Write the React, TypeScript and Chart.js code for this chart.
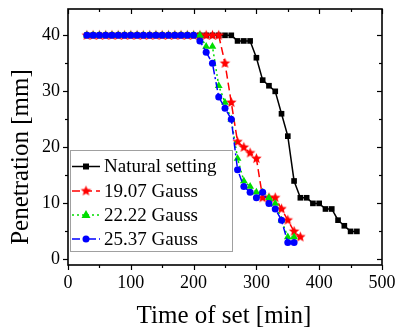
import React, { useEffect, useRef } from 'react';
import { Chart, registerables } from 'chart.js';

Chart.register(...registerables);

// ---------- data ----------
const naturalTime = [30, 40, 50, 60, 70, 80, 90, 100, 110, 120, 130, 140, 150, 160, 170, 180, 190, 200, 210, 220, 230, 240, 250, 260, 270, 280, 290, 300, 310, 320, 330, 340, 350, 360, 370, 380, 390, 400, 410, 420, 430, 440, 450, 460];
const naturalPen = [40, 40, 40, 40, 40, 40, 40, 40, 40, 40, 40, 40, 40, 40, 40, 40, 40, 40, 40, 40, 40, 40, 40, 40, 39, 39, 39, 36, 32, 31, 30, 26, 22, 14, 11, 11, 10, 10, 9, 9, 7, 6, 5, 5];

const g1907Time = [30, 40, 50, 60, 70, 80, 90, 100, 110, 120, 130, 140, 150, 160, 170, 180, 190, 200, 210, 220, 230, 240, 250, 260, 270, 280, 290, 300, 310, 320, 330, 340, 350, 360, 370];
const g1907Pen = [40, 40, 40, 40, 40, 40, 40, 40, 40, 40, 40, 40, 40, 40, 40, 40, 40, 40, 40, 40, 40, 40, 35, 28, 21, 20, 19, 18, 11, 11, 11, 9, 7, 5, 4];

const g2222Time = [30, 40, 50, 60, 70, 80, 90, 100, 110, 120, 130, 140, 150, 160, 170, 180, 190, 200, 210, 220, 230, 240, 250, 260, 270, 280, 290, 300, 310, 320, 330, 340, 350, 360];
const g2222Pen = [40, 40, 40, 40, 40, 40, 40, 40, 40, 40, 40, 40, 40, 40, 40, 40, 40, 40, 40, 38, 38, 31, 28, 25, 18, 14, 13, 12, 12, 11, 10, 7, 4, 4];

const g2537Time = [30, 40, 50, 60, 70, 80, 90, 100, 110, 120, 130, 140, 150, 160, 170, 180, 190, 200, 210, 220, 230, 240, 250, 260, 270, 280, 290, 300, 310, 320, 330, 340, 350, 360];
const g2537Pen = [40, 40, 40, 40, 40, 40, 40, 40, 40, 40, 40, 40, 40, 40, 40, 40, 40, 40, 39, 37, 35, 29, 27, 25, 16, 13, 12, 11, 12, 10, 9, 7, 3, 3];

const seriesLabels = ['Natural setting', '19.07 Gauss', '22.22 Gauss', '25.37 Gauss'];

const xMajorTicks = [0, 100, 200, 300, 400, 500];
const xMinorTicks = [50, 150, 250, 350, 450];
const yMajorTicks = [0, 10, 20, 30, 40];
const yMinorTicks = [5, 15, 25, 35];

const xTitle = 'Time of set [min]';
const yTitle = 'Penetration [mm]';

// ---------- styling ----------
const SERIF = "'Liberation Serif', 'DejaVu Serif', serif";
const COLORS = ['#000000', '#ff0000', '#00dd00', '#0000ff'];
const DASHES: number[][] = [[], [8, 4], [2, 3], [8, 3, 2, 3]];

function makeStar(r: number, color: string): HTMLCanvasElement {
  const s = Math.ceil(r * 2 + 2);
  const c = document.createElement('canvas');
  c.width = s;
  c.height = s;
  const ctx = c.getContext('2d')!;
  ctx.fillStyle = color;
  ctx.beginPath();
  for (let i = 0; i < 10; i++) {
    const ang = -Math.PI / 2 + (i * Math.PI) / 5;
    const rr = i % 2 === 0 ? r : r * 0.45;
    const x = s / 2 + rr * Math.cos(ang);
    const y = s / 2 + rr * Math.sin(ang);
    if (i === 0) ctx.moveTo(x, y);
    else ctx.lineTo(x, y);
  }
  ctx.closePath();
  ctx.fill();
  return c;
}

function drawMarker(ctx: CanvasRenderingContext2D, idx: number, x: number, y: number, star: HTMLCanvasElement) {
  ctx.save();
  ctx.setLineDash([]);
  ctx.fillStyle = COLORS[idx];
  ctx.beginPath();
  if (idx === 0) {
    ctx.rect(x - 3, y - 3, 6, 6);
    ctx.fill();
  } else if (idx === 1) {
    ctx.drawImage(star, x - star.width / 2, y - star.height / 2);
  } else if (idx === 2) {
    const r = 5;
    ctx.moveTo(x, y - r);
    ctx.lineTo(x + r * 0.9, y + r * 0.6);
    ctx.lineTo(x - r * 0.9, y + r * 0.6);
    ctx.closePath();
    ctx.fill();
  } else {
    ctx.arc(x, y, 3.5, 0, Math.PI * 2);
    ctx.fill();
  }
  ctx.restore();
}

export default function App() {
  const ref = useRef<HTMLCanvasElement | null>(null);

  useEffect(() => {
    if (!ref.current) return;
    const star = makeStar(5.5, COLORS[1]);

    const toPts = (xs: number[], ys: number[]) => xs.map((x, i) => ({ x, y: ys[i] }));

    const framePlugin = {
      id: 'frameAndText',
      afterDraw(chart: any) {
        const { ctx, chartArea: a, scales } = chart;
        const xs = scales.x;
        const ys = scales.y;
        ctx.save();
        ctx.strokeStyle = '#000';
        ctx.lineWidth = 1.6;
        ctx.setLineDash([]);
        ctx.strokeRect(a.left, a.top, a.right - a.left, a.bottom - a.top);
        ctx.lineWidth = 1.2;
        const seg = (x1: number, y1: number, x2: number, y2: number) => {
          ctx.beginPath();
          ctx.moveTo(x1, y1);
          ctx.lineTo(x2, y2);
          ctx.stroke();
        };
        const doX = (vals: number[], L: number) => {
          for (const v of vals) {
            const px = Math.round(xs.getPixelForValue(v)) + 0.5;
            seg(px, a.bottom, px, a.bottom + L);
            seg(px, a.top, px, a.top + L);
          }
        };
        const doY = (vals: number[], L: number) => {
          for (const v of vals) {
            const py = Math.round(ys.getPixelForValue(v)) + 0.5;
            seg(a.left - L, py, a.left, py);
            seg(a.right - L, py, a.right, py);
          }
        };
        doX(xMajorTicks, 5);
        doX(xMinorTicks, 3);
        doY(yMajorTicks, 5);
        doY(yMinorTicks, 3);

        // axis titles
        ctx.fillStyle = '#000';
        ctx.textAlign = 'center';
        ctx.textBaseline = 'middle';
        ctx.font = `25px ${SERIF}`;
        ctx.fillText(xTitle, 224, 316);
        ctx.save();
        ctx.translate(21, 157);
        ctx.rotate(-Math.PI / 2);
        ctx.font = `25px ${SERIF}`;
        ctx.fillText(yTitle, 0, 0);
        ctx.restore();

        // legend
        const bx = 70, by = 150, bw = 162, bh = 101;
        ctx.fillStyle = '#ffffff';
        ctx.fillRect(bx, by, bw, bh);
        ctx.strokeStyle = '#a0a0a0';
        ctx.lineWidth = 1;
        ctx.strokeRect(bx + 0.5, by + 0.5, bw, bh);
        const rows = [166.5, 191, 215, 239];
        ctx.font = `19px ${SERIF}`;
        ctx.textAlign = 'left';
        ctx.textBaseline = 'middle';
        seriesLabels.forEach((lab, i) => {
          const y = rows[i];
          ctx.strokeStyle = COLORS[i];
          ctx.lineWidth = 1.5;
          ctx.setLineDash(DASHES[i]);
          seg(72, y, 100, y);
          ctx.setLineDash([]);
          drawMarker(ctx, i, 86, y, star);
          ctx.fillStyle = '#000';
          ctx.fillText(lab, 104, y + 1);
        });
        ctx.restore();
      },
    };

    const chart = new Chart(ref.current, {
      type: 'line',
      data: {
        datasets: [
          {
            label: seriesLabels[0],
            data: toPts(naturalTime, naturalPen),
            borderColor: COLORS[0],
            backgroundColor: COLORS[0],
            borderWidth: 1.5,
            pointStyle: 'rect',
            pointRadius: 4,
            pointBorderWidth: 0,
            order: 4,
          },
          {
            label: seriesLabels[1],
            data: toPts(g1907Time, g1907Pen),
            borderColor: COLORS[1],
            backgroundColor: COLORS[1],
            borderWidth: 1.5,
            borderDash: DASHES[1],
            pointStyle: star as any,
            pointRadius: 5,
            order: 3,
          },
          {
            label: seriesLabels[2],
            data: toPts(g2222Time, g2222Pen),
            borderColor: COLORS[2],
            backgroundColor: COLORS[2],
            borderWidth: 1.5,
            borderDash: DASHES[2],
            pointStyle: 'triangle',
            pointRadius: 4.5,
            pointBorderWidth: 0,
            order: 2,
          },
          {
            label: seriesLabels[3],
            data: toPts(g2537Time, g2537Pen),
            borderColor: COLORS[3],
            backgroundColor: COLORS[3],
            borderWidth: 1.5,
            borderDash: DASHES[3],
            pointStyle: 'circle',
            pointRadius: 3.5,
            pointBorderWidth: 0,
            order: 1,
          },
        ],
      },
      options: {
        animation: false,
        responsive: true,
        maintainAspectRatio: false,
        layout: { padding: { left: 0, top: 9, right: 15, bottom: 0 } },
        plugins: { legend: { display: false }, tooltip: { enabled: false } },
        scales: {
          x: {
            type: 'linear',
            min: 0,
            max: 500,
            grid: { display: false, drawTicks: false },
            border: { display: false },
            afterBuildTicks: (s: any) => {
              s.ticks = xMajorTicks.map((v) => ({ value: v }));
            },
            afterFit: (s: any) => {
              s.height = 64;
              s.paddingLeft = 0;
              s.paddingRight = 0;
              s.paddingTop = 0;
              s.paddingBottom = 0;
            },
            ticks: {
              color: '#000',
              padding: 7,
              maxRotation: 0,
              autoSkip: false,
              font: { family: SERIF, size: 18 },
            },
          },
          y: {
            type: 'linear',
            min: -1,
            max: 44.7,
            grid: { display: false, drawTicks: false },
            border: { display: false },
            afterBuildTicks: (s: any) => {
              s.ticks = yMajorTicks.map((v) => ({ value: v }));
            },
            afterFit: (s: any) => {
              s.width = 68;
              s.paddingLeft = 0;
              s.paddingRight = 0;
              s.paddingTop = 0;
              s.paddingBottom = 0;
            },
            ticks: {
              color: '#000',
              padding: 8,
              autoSkip: false,
              font: { family: SERIF, size: 18 },
            },
          },
        },
      },
      plugins: [framePlugin],
    });

    return () => chart.destroy();
  }, []);

  return (
    <div style={{ position: 'fixed', left: 0, top: 0, width: 397, height: 329, background: '#fff' }}>
      <canvas ref={ref} />
    </div>
  );
}
